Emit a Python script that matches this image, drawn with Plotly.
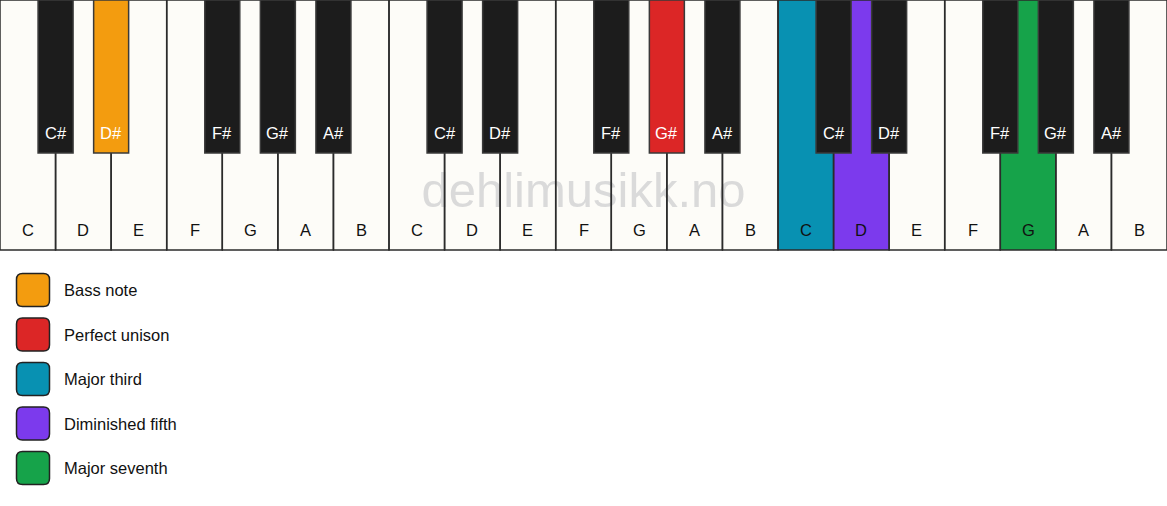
import plotly.graph_objects as go

# ---- data ----
white_notes = ["C", "D", "E", "F", "G", "A", "B"]
black_notes = ["C#", "D#", "F#", "G#", "A#"]
black_after_white = ["C", "D", "F", "G", "A"]   # black key sits right of these white keys
octaves = 3
highlight_notes = ["D#", "G#", "C", "D", "G"]
highlight_octaves = [0, 1, 2, 2, 2]
highlight_colors = ["#F39C0F", "#DC2626", "#0891B2", "#7C3AED", "#16A34A"]
legend_labels = ["Bass note", "Perfect unison", "Major third", "Diminished fifth", "Major seventh"]
watermark = "dehlimusikk.no"

# ---- layout constants ----
FIG_W, FIG_H = 1167, 506
n_white = len(white_notes) * octaves
KW = FIG_W / n_white
WH = 250          # white key height
BW = 35           # black key width
BH = 153          # black key height
WHITE_FILL = "#FDFCF8"
BLACK_FILL = "#1C1C1C"
STROKE = "#2b2b2b"
FONT = "Liberation Sans, Arial, sans-serif"
FS = 16.5

hl = {(n, o): c for n, o, c in zip(highlight_notes, highlight_octaves, highlight_colors)}

shapes = []
annotations = []

# white keys: fills below the watermark, outlines above it
for o in range(octaves):
    for i, n in enumerate(white_notes):
        idx = o * len(white_notes) + i
        x0 = idx * KW
        x1 = x0 + KW
        fill = hl.get((n, o), WHITE_FILL)
        shapes.append(dict(type="rect", xref="x", yref="y", x0=x0, x1=x1, y0=0, y1=WH,
                           fillcolor=fill, line=dict(width=0), layer="below"))
        shapes.append(dict(type="rect", xref="x", yref="y", x0=x0, x1=x1, y0=0, y1=WH,
                           fillcolor="rgba(0,0,0,0)", line=dict(color=STROKE, width=1.5),
                           layer="above"))
        annotations.append(dict(x=(x0 + x1) / 2, y=230, xref="x", yref="y", text=n,
                                showarrow=False, xanchor="center", yanchor="middle",
                                font=dict(family=FONT, size=FS, color="#111111")))

# black keys
for o in range(octaves):
    for n, w in zip(black_notes, black_after_white):
        idx = o * len(white_notes) + white_notes.index(w) + 1
        cx = idx * KW
        fill = hl.get((n, o), BLACK_FILL)
        shapes.append(dict(type="rect", xref="x", yref="y", x0=cx - BW / 2, x1=cx + BW / 2,
                           y0=0, y1=BH, fillcolor=fill,
                           line=dict(color="#3a3a3a", width=1.5), layer="above"))
        annotations.append(dict(x=cx, y=133, xref="x", yref="y", text=n,
                                showarrow=False, xanchor="center", yanchor="middle",
                                font=dict(family=FONT, size=FS, color="#FFFFFF")))


def rounded_rect(x0, y0, x1, y1, r):
    return (f"M {x0 + r},{y0} L {x1 - r},{y0} Q {x1},{y0} {x1},{y0 + r} "
            f"L {x1},{y1 - r} Q {x1},{y1} {x1 - r},{y1} L {x0 + r},{y1} "
            f"Q {x0},{y1} {x0},{y1 - r} L {x0},{y0 + r} Q {x0},{y0} {x0 + r},{y0} Z")


# legend
for k, (lab, col) in enumerate(zip(legend_labels, highlight_colors)):
    cy = 290 + k * 44.5
    shapes.append(dict(type="path", xref="x", yref="y",
                       path=rounded_rect(16.5, cy - 16.5, 49.5, cy + 16.5, 6),
                       fillcolor=col, line=dict(color="#222222", width=1.5), layer="above"))
    annotations.append(dict(x=62, y=cy, xref="x", yref="y", text=lab, showarrow=False,
                            xanchor="left", yanchor="middle",
                            font=dict(family=FONT, size=FS, color="#111111")))

fig = go.Figure()
fig.add_trace(go.Scatter(x=[0, FIG_W], y=[0, FIG_H], mode="markers",
                         marker=dict(opacity=0), hoverinfo="skip", showlegend=False))
# watermark (between key fills and key outlines)
fig.add_trace(go.Scatter(x=[FIG_W / 2], y=[195], mode="text", text=[watermark],
                         textposition="middle center",
                         textfont=dict(family=FONT, size=49, color="#DADADA"),
                         hoverinfo="skip", showlegend=False))
fig.update_layout(
    width=FIG_W, height=FIG_H,
    margin=dict(l=0, r=0, t=0, b=0),
    paper_bgcolor="white", plot_bgcolor="white",
    xaxis=dict(range=[0, FIG_W], visible=False, fixedrange=True),
    yaxis=dict(range=[FIG_H, 0], visible=False, fixedrange=True),
    shapes=shapes, annotations=annotations, showlegend=False,
)
fig.write_html("out.html", config={"displayModeBar": False},
               post_script="document.body.style.margin='0';document.body.style.overflow='hidden';")
